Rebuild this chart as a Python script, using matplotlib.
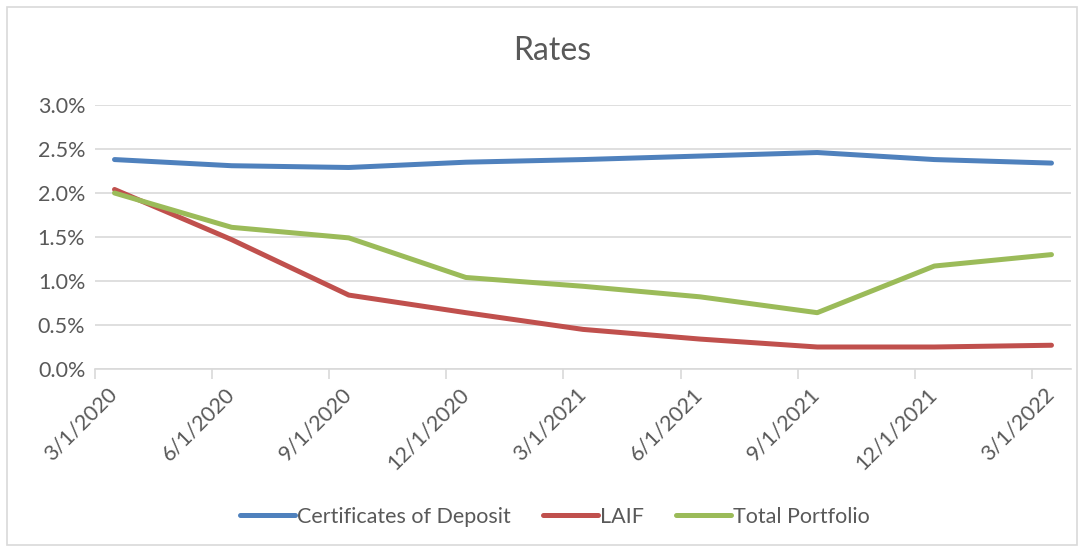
import matplotlib
matplotlib.use('Agg')
import matplotlib.pyplot as plt
import matplotlib.transforms as mtransforms
from matplotlib.ticker import FuncFormatter, FixedLocator
from matplotlib.patches import Rectangle

plt.rcParams['font.family'] = ['Lato', 'DejaVu Sans']

# Quarter-end reporting dates (tick labels) and rates in percent
dates = ['3/1/2020', '6/1/2020', '9/1/2020', '12/1/2020', '3/1/2021',
         '6/1/2021', '9/1/2021', '12/1/2021', '3/1/2022']
cd_rates = [2.38, 2.31, 2.29, 2.35, 2.38, 2.42, 2.46, 2.38, 2.34]
laif_rates = [2.04, 1.47, 0.84, 0.64, 0.45, 0.34, 0.25, 0.25, 0.27]
total_rates = [2.00, 1.61, 1.49, 1.04, 0.94, 0.82, 0.64, 1.17, 1.30]

SERIES = [
    ('Certificates of Deposit', cd_rates, '#4f81bd'),
    ('LAIF', laif_rates, '#c0504d'),
    ('Total Portfolio', total_rates, '#9bbb59'),
]
TEXT = '#595959'
GRID = '#d9d9d9'
FS = 15.5

# month index of each date (Excel date axis, base unit = month)
def month_index(d):
    m, _, y = d.split('/')
    return (int(y) - 2020) * 12 + int(m) - 3

months = [month_index(d) for d in dates]
# points sit in the middle of their month slot
xs = [m + 0.5 for m in months]

fig = plt.figure(figsize=(10.84, 5.52), dpi=100)
fig.patches.append(Rectangle((7 / 1084, 7 / 552), 1070 / 1084, 538 / 552,
                             transform=fig.transFigure, fill=False,
                             edgecolor=GRID, linewidth=1.2))

ax = fig.add_axes([95 / 1084, 1 - 369 / 552, 976 / 1084, 264 / 552])

for name, vals, color in SERIES:
    ax.plot(xs, vals, color=color, linewidth=3.6, solid_capstyle='round',
            solid_joinstyle='round', label=name)

ax.set_xlim(0, months[-1] + 1)
ax.set_ylim(0, 3.0)
ax.set_yticks([0, 0.5, 1.0, 1.5, 2.0, 2.5, 3.0])
ax.yaxis.set_major_formatter(FuncFormatter(lambda v, p: f'{v:.1f}%'))
ax.grid(axis='y', color=GRID, linewidth=1.2)
ax.set_axisbelow(True)

for s in ['top', 'right', 'left']:
    ax.spines[s].set_visible(False)
ax.spines['bottom'].set_color(GRID)
ax.spines['bottom'].set_linewidth(1.2)

ax.xaxis.set_major_locator(FixedLocator(months))
ax.set_xticklabels(dates)
ax.tick_params(axis='x', colors=GRID, length=7, width=1.2, pad=2,
               labelcolor=TEXT, labelsize=FS)
ax.tick_params(axis='y', length=0, labelcolor=TEXT, labelsize=FS, pad=7)

offset = mtransforms.ScaledTranslation(0.19, -0.10, fig.dpi_scale_trans)
for lbl in ax.get_xticklabels():
    lbl.set_rotation(45)
    lbl.set_ha('right')
    lbl.set_va('center')
    lbl.set_rotation_mode('anchor')
    lbl.set_transform(lbl.get_transform() + offset)

fig.text(552 / 1084, 1 - 51 / 552, 'Rates', ha='center', va='center',
         fontsize=23, color=TEXT)

fig.legend(loc='center', bbox_to_anchor=(555 / 1084, 1 - 517 / 552),
           ncol=3, frameon=False, fontsize=FS, labelcolor=TEXT,
           handlelength=2.55, handletextpad=0.1, columnspacing=1.5)

fig.savefig('out.png', dpi=100)
